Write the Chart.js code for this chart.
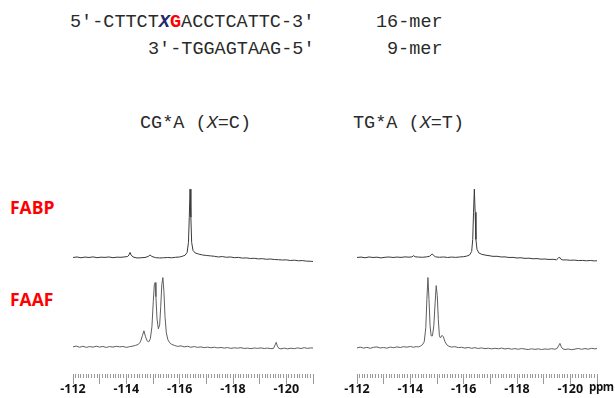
<!DOCTYPE html>
<html>
<head>
<meta charset="utf-8">
<script src="https://cdn.jsdelivr.net/npm/chart.js@4"></script>
<style>
    html, body { margin: 0; padding: 0; width: 615px; height: 398px; overflow: hidden; background: #fff; }
    .seq { position: absolute; font-family: "Liberation Mono", "Courier New", monospace; font-size: 18.5px; line-height: 1; color: #2a2a2a; white-space: pre; }
    .lab { position: absolute; font-family: "Open Sans", sans-serif; font-weight: 700; font-size: 17.5px; line-height: 1; color: #ff0000; }
    .ppm { position: absolute; font-family: "Open Sans", sans-serif; font-weight: 700; font-size: 11.5px; letter-spacing: -0.4px; line-height: 1; color: #111; white-space: nowrap; }
    .box { position: absolute; }
</style>
</head>
<body>
<div class="seq" style="left:70px;top:14px">5′-CTTCT<b style="color:#1c2a6e;font-style:italic">X</b><b style="color:#ff0000">G</b>ACCTCATTC-3′</div>
<div class="seq" style="left:376px;top:14px">16-mer</div>
<div class="seq" style="left:148px;top:41px">3′-TGGAGTAAG-5′</div>
<div class="seq" style="left:387px;top:41px">9-mer</div>
<div class="seq" style="left:140px;top:115px">CG*A (<i>X</i>=C)</div>
<div class="seq" style="left:353px;top:115px">TG*A (<i>X</i>=T)</div>
<div class="lab" style="left:10px;top:199px">FABP</div>
<div class="lab" style="left:10px;top:291px">FAAF</div>

<div class="box" style="left:48px;top:150px;width:275px;height:245px"><canvas id="spec-left"></canvas></div>
<div class="box" style="left:332px;top:150px;width:275px;height:245px"><canvas id="spec-right"></canvas></div>
<div class="ppm" style="left:589px;top:381px">ppm</div>

<script>
// chemical shift (ppm) and intensity, baseline = 0
const cgFabpPpm = [-112.0, -112.15, -112.3, -112.45, -112.6, -112.75, -112.9, -113.05, -113.2, -113.35, -113.5, -113.65, -113.8, -113.95, -114.05, -114.1, -114.14, -114.18, -114.25, -114.4, -114.55, -114.7, -114.82, -114.89, -114.96, -115.1, -115.25, -115.4, -115.55, -115.7, -115.85, -116.0, -116.1, -116.2, -116.28, -116.33, -116.36, -116.39, -116.42, -116.45, -116.5, -116.58, -116.7, -116.85, -117.0, -117.15, -117.3, -117.45, -117.6, -117.75, -117.9, -118.05, -118.2, -118.35, -118.5, -118.65, -118.8, -118.95, -119.1, -119.25, -119.4, -119.55, -119.7, -119.85, -120.0, -120.15, -120.3, -120.45, -120.6, -120.75, -120.9, -121.0];
const cgFabpInt = [0, 0.5, -0.3, 0.4, 0, 0.6, -0.2, 0.3, 0.1, 0.5, -0.2, 0.3, 0.2, 0.6, 1, 2.5, 5, 2.5, 0.5, -0.5, -0.3, 0, 1, 2.5, 1, -0.2, -0.5, -0.3, 0, -0.3, 0.2, 0.5, 1.2, 2.2, 5, 15, 40, 68, 40, 15, 7, 4.5, 3.5, 2.5, 2, 1.6, 1.2, 0.5, 0.9, 0.2, 0.5, -0.2, 0.1, -0.6, -0.4, -1, -0.8, -1.4, -1.2, -1.8, -1.5, -2, -2.2, -2.5, -2.4, -3, -2.7, -3.3, -3.1, -3.6, -3.8, -4.0];

const cgFaafPpm = [-112.0, -112.12, -112.25, -112.37, -112.5, -112.62, -112.75, -112.87, -113.0, -113.12, -113.25, -113.37, -113.5, -113.62, -113.75, -113.87, -114.0, -114.12, -114.25, -114.35, -114.45, -114.53, -114.6, -114.66, -114.72, -114.78, -114.84, -114.9, -114.96, -115.01, -115.05, -115.08, -115.11, -115.15, -115.2, -115.25, -115.29, -115.33, -115.37, -115.41, -115.45, -115.5, -115.56, -115.63, -115.7, -115.8, -115.92, -116.05, -116.17, -116.3, -116.42, -116.55, -116.67, -116.8, -116.92, -117.05, -117.17, -117.3, -117.42, -117.55, -117.67, -117.8, -117.92, -118.05, -118.17, -118.3, -118.42, -118.55, -118.67, -118.8, -118.92, -119.05, -119.17, -119.3, -119.42, -119.52, -119.58, -119.62, -119.66, -119.72, -119.8, -119.92, -120.05, -120.17, -120.3, -120.42, -120.55, -120.67, -120.8, -120.92, -121.0];
const cgFaafInt = [0, 0.8, -0.4, 0.6, -0.5, 0.3, -0.3, 0.7, -0.2, 0.4, -0.6, 0.3, -0.2, 0.6, 0, 0.4, -0.5, 0.2, 0.8, 1.5, 2.5, 5, 11, 16, 10, 6, 5, 8, 20, 45, 62, 64, 50, 28, 18, 22, 40, 62, 69, 55, 30, 14, 7, 4, 2.5, 1.5, 0.5, 1, 0, 0.6, -0.4, 0.3, -0.5, 0, -0.8, -0.2, -0.9, -0.3, -1, -0.6, -1.2, -0.7, -1.5, -0.9, -1.3, -0.8, -1.6, -1.2, -1.8, -1.1, -1.5, -1.0, -1.6, -1.2, -1.8, -1.4, 2, 4.5, 1, -1.5, -2, -1.2, -2, -1.3, -1.8, -1, -1.6, -0.8, -1.5, -1, -1.2];

const tgFabpPpm = [-112.0, -112.15, -112.3, -112.45, -112.6, -112.75, -112.9, -113.05, -113.2, -113.35, -113.5, -113.65, -113.8, -113.95, -114.06, -114.12, -114.18, -114.3, -114.45, -114.6, -114.72, -114.78, -114.82, -114.87, -114.95, -115.1, -115.25, -115.4, -115.55, -115.7, -115.85, -116.0, -116.12, -116.22, -116.3, -116.34, -116.37, -116.4, -116.43, -116.46, -116.5, -116.57, -116.67, -116.8, -116.95, -117.1, -117.25, -117.4, -117.55, -117.7, -117.85, -118.0, -118.15, -118.3, -118.45, -118.6, -118.75, -118.9, -119.05, -119.2, -119.35, -119.48, -119.54, -119.59, -119.64, -119.72, -119.85, -120.0, -120.15, -120.3, -120.45, -120.6, -120.75, -120.9, -121.0];
const tgFabpInt = [0, 0.4, -0.3, 0.5, 0, 0.3, -0.4, 0.2, 0.5, 0, 0.4, 0.1, 0.6, 0.3, 0.6, 1.8, 0.7, 0.4, 0.2, 0.6, 1.2, 2.5, 3.6, 2, 0.6, 0.2, 0.5, 0, 0.4, 0.1, 0.5, 0.8, 1.4, 2.5, 6, 18, 45, 68, 45, 18, 8, 4.5, 3.2, 2.4, 1.8, 1.1, 1.2, 0.5, 0.6, 0, 0.1, -0.5, -0.3, -0.9, -0.7, -1.3, -1.1, -1.7, -1.5, -2, -1.8, -2.3, -1, 0.5, -1.6, -2.5, -2.4, -2.8, -2.6, -3.1, -2.9, -3.3, -3.0, -3.4, -3.3];

const tgFaafPpm = [-112.0, -112.12, -112.25, -112.37, -112.5, -112.62, -112.75, -112.87, -113.0, -113.12, -113.25, -113.37, -113.5, -113.62, -113.75, -113.87, -114.0, -114.12, -114.22, -114.3, -114.38, -114.45, -114.52, -114.58, -114.62, -114.66, -114.7, -114.74, -114.78, -114.83, -114.88, -114.93, -114.97, -115.01, -115.05, -115.09, -115.13, -115.19, -115.24, -115.3, -115.37, -115.45, -115.55, -115.67, -115.8, -115.92, -116.05, -116.17, -116.3, -116.42, -116.55, -116.67, -116.8, -116.92, -117.05, -117.17, -117.3, -117.42, -117.55, -117.67, -117.8, -117.92, -118.05, -118.17, -118.3, -118.42, -118.55, -118.67, -118.8, -118.92, -119.05, -119.17, -119.3, -119.42, -119.5, -119.56, -119.61, -119.66, -119.72, -119.8, -119.92, -120.05, -120.17, -120.3, -120.42, -120.55, -120.67, -120.8, -120.92, -121.0];
const tgFaafInt = [0, 0.7, -0.2, 0.5, -0.4, 0.6, 0.9, -0.1, 0.4, -0.3, 0.8, 0.2, 1, 0.4, 1.2, 0.7, 1.4, 0.6, 1.3, 0.9, 1.8, 3, 6, 20, 48, 70, 48, 22, 12, 12, 22, 45, 62, 52, 28, 12, 10, 12.5, 11, 6, 3, 1.5, 0.8, 1.2, 0.3, 0.6, -0.2, 0.4, -0.4, 0.2, -0.6, 0, -0.8, -0.3, -1, -0.4, -0.9, -0.2, -1.1, -0.5, -1.3, -0.7, -1.4, -0.6, -1.2, -1.6, -0.9, -1.5, -1, -1.6, -1.1, -1.4, -0.8, -1.3, -0.6, 2, 4.5, 1, -1, -1.6, -1.1, -1.8, -1.2, -0.6, -1.4, -0.7, -1.3, -0.4, -1, -0.6];

const axisMin = -121;
const axisMax = -112;

function toPoints(ppm, vals, offset) {
    return ppm.map((p, i) => ({ x: p, y: vals[i] + offset }));
}

function isMajor(v) {
    return Math.abs(v - Math.round(v)) < 1e-6;
}

function drawSpectra(id, fabp, faaf) {
    const ctx = document.getElementById(id);
    return new Chart(ctx, {
        type: 'line',
        data: {
            datasets: [
                { label: 'FABP', data: fabp, borderColor: '#3a3a3a', borderWidth: 1, pointRadius: 0, tension: 0 },
                { label: 'FAAF', data: faaf, borderColor: '#5e5e5e', borderWidth: 1, pointRadius: 0, tension: 0 }
            ]
        },
        options: {
            responsive: true,
            maintainAspectRatio: false,
            animation: false,
            layout: { padding: { left: 25, right: 10, top: 0, bottom: 0 } },
            plugins: { legend: { display: false }, tooltip: { enabled: false } },
            scales: {
                x: {
                    type: 'linear',
                    min: axisMin,
                    max: axisMax,
                    reverse: true,
                    border: { display: false },
                    grid: {
                        drawOnChartArea: false,
                        tickLength: 10,
                        tickColor: '#9a9a9a',
                        // minor ticks only draw the first few pixels
                        tickBorderDash: (c) => isMajor(c.tick.value) ? [] : [4, 30]
                    },
                    ticks: {
                        stepSize: 0.1,
                        autoSkip: false,
                        maxTicksLimit: 200,
                        maxRotation: 0,
                        minRotation: 0,
                        padding: -2,
                        color: '#111',
                        font: { family: 'Open Sans', weight: 'bold', size: 12.5 },
                        callback: (v) => {
                            const r = Math.round(v);
                            return isMajor(v) && r % 2 === 0 ? String(r) : '';
                        }
                    }
                },
                y: { display: false, min: -27, max: 196 }
            }
        }
    });
}

drawSpectra('spec-left', toPoints(cgFabpPpm, cgFabpInt, 89), toPoints(cgFaafPpm, cgFaafInt, 0));
drawSpectra('spec-right', toPoints(tgFabpPpm, tgFabpInt, 89), toPoints(tgFaafPpm, tgFaafInt, -1));
</script>
</body>
</html>
